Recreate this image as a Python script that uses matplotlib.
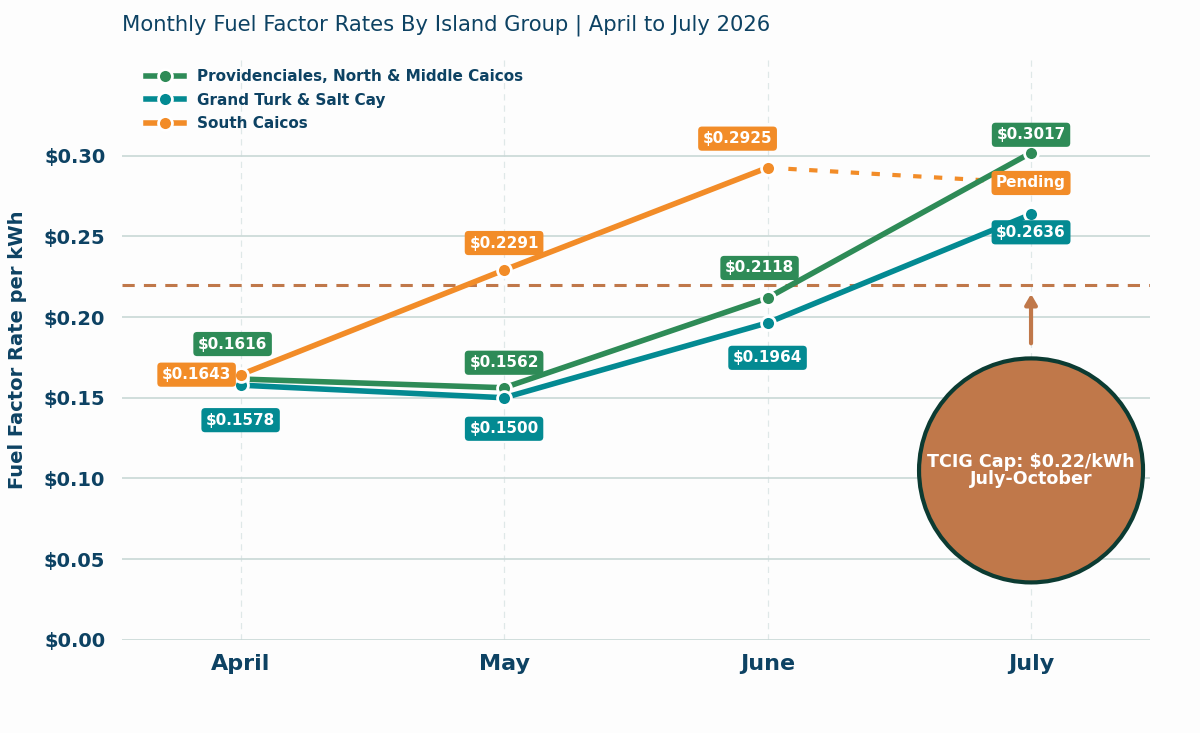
import matplotlib
matplotlib.use("Agg")
import matplotlib.pyplot as plt
from matplotlib.patches import Circle
from matplotlib.transforms import ScaledTranslation
from matplotlib.ticker import FuncFormatter

months = ["April", "May", "June", "July"]
provo = [0.1616, 0.1562, 0.2118, 0.3017]
grand_turk = [0.1578, 0.1500, 0.1964, 0.2636]
south_caicos = [0.1643, 0.2291, 0.2925]
south_pending = 0.283
cap_value = 0.22

C_GREEN = "#2e8b57"
C_TEAL = "#038a92"
C_ORANGE = "#f28c28"
C_CAP = "#c0784a"
C_TEXT = "#0d4263"
C_EDGE = "#0c3b32"

fig = plt.figure(figsize=(12, 7.33), dpi=100, facecolor="#fdfdfd")
ax = fig.add_axes([0.1017, 0.1269, 0.8563, 0.7931])
ax.set_facecolor("#fdfdfd")

x = list(range(len(months)))

ax.plot(x, provo, color=C_GREEN, lw=4, marker="o", ms=10, mec="white", mew=2,
        label="Providenciales, North & Middle Caicos", zorder=4)
ax.plot(x, grand_turk, color=C_TEAL, lw=4, marker="o", ms=10, mec="white", mew=2,
        label="Grand Turk & Salt Cay", zorder=4)
ax.plot(x[:3], south_caicos, color=C_ORANGE, lw=4, marker="o", ms=10, mec="white", mew=2,
        label="South Caicos", zorder=5)
ax.plot([x[2], x[3]], [south_caicos[2], south_pending], color=C_ORANGE, lw=3,
        ls=(0, (2, 3)), zorder=3)

ax.axhline(cap_value, color=C_CAP, lw=2.2, ls=(0, (4, 3)), zorder=2)

def lab(xi, yi, text, color, dx, dy, fs=11):
    ax.annotate(text, (xi, yi), xytext=(dx, dy), textcoords="offset pixels",
                ha="center", va="center", color="white", fontsize=fs, fontweight="bold",
                bbox=dict(boxstyle="round,pad=0.3,rounding_size=0.25", fc=color, ec="none"),
                zorder=6)

fmt = lambda v: f"${v:.4f}"
lab(0, provo[0], fmt(provo[0]), C_GREEN, -8, 35)
lab(0, grand_turk[0], fmt(grand_turk[0]), C_TEAL, 0, -35)
lab(0, south_caicos[0], fmt(south_caicos[0]), C_ORANGE, -44, 0)
lab(1, provo[1], fmt(provo[1]), C_GREEN, 0, 25)
lab(1, grand_turk[1], fmt(grand_turk[1]), C_TEAL, 0, -31)
lab(1, south_caicos[1], fmt(south_caicos[1]), C_ORANGE, 0, 27)
lab(2, provo[2], fmt(provo[2]), C_GREEN, -8, 30)
lab(2, grand_turk[2], fmt(grand_turk[2]), C_TEAL, 0, -35)
lab(2, south_caicos[2], fmt(south_caicos[2]), C_ORANGE, -30, 29)
lab(3, provo[3], fmt(provo[3]), C_GREEN, 0, 18)
lab(3, grand_turk[3], fmt(grand_turk[3]), C_TEAL, 0, -18)
lab(3, south_pending, "Pending", C_ORANGE, 0, 0, fs=11)

# cap callout
ax.annotate("", xy=(3, cap_value - 0.004), xytext=(3, 0.182),
            arrowprops=dict(arrowstyle="-|>,head_width=0.35,head_length=0.6",
                            color=C_CAP, lw=3), zorder=5)
circ_tr = fig.dpi_scale_trans + ScaledTranslation(3, 0.105, ax.transData)
ax.add_patch(Circle((0, 0), 1.12, transform=circ_tr, fc=C_CAP, ec=C_EDGE, lw=3,
                    zorder=7, clip_on=False))
ax.text(3, 0.105, "TCIG Cap: $0.22/kWh\nJuly-October", ha="center", va="center",
        color="white", fontsize=12.6, fontweight="bold", linespacing=0.92, zorder=8)

ax.set_xlim(-0.45, 3.45)
ax.set_ylim(0, 0.36)
ax.set_yticks([0, 0.05, 0.10, 0.15, 0.20, 0.25, 0.30])
ax.yaxis.set_major_formatter(FuncFormatter(lambda v, p: f"${v:.2f}"))
ax.set_xticks(x)
ax.set_xticklabels(months)
for t in ax.get_xticklabels():
    t.set_fontsize(16); t.set_fontweight("bold"); t.set_color(C_TEXT)
for t in ax.get_yticklabels():
    t.set_fontsize(14); t.set_fontweight("bold"); t.set_color(C_TEXT)
ax.tick_params(length=0, pad=12)
ax.tick_params(axis="x", pad=10)

ax.grid(axis="y", color="#c9d8d6", lw=1.2, zorder=0)
ax.grid(axis="x", color="#dfe8e8", lw=0.9, ls=(0, (5, 4)), zorder=0)
ax.set_axisbelow(True)
for s in ax.spines.values():
    s.set_visible(False)

ax.set_ylabel("Fuel Factor Rate per kWh", fontsize=14, fontweight="bold", color=C_TEXT, labelpad=12)
fig.text(0.1017, 0.965, "Monthly Fuel Factor Rates By Island Group | April to July 2026",
         fontsize=15.2, color=C_TEXT, ha="left", va="center")

leg = ax.legend(loc="upper left", frameon=False, fontsize=11, handlelength=2.5,
                borderaxespad=0.3, labelspacing=0.55, bbox_to_anchor=(0.013, 1.0))
for t in leg.get_texts():
    t.set_fontweight("bold"); t.set_color(C_TEXT)

fig.savefig("out.png", dpi=100, facecolor=fig.get_facecolor())
